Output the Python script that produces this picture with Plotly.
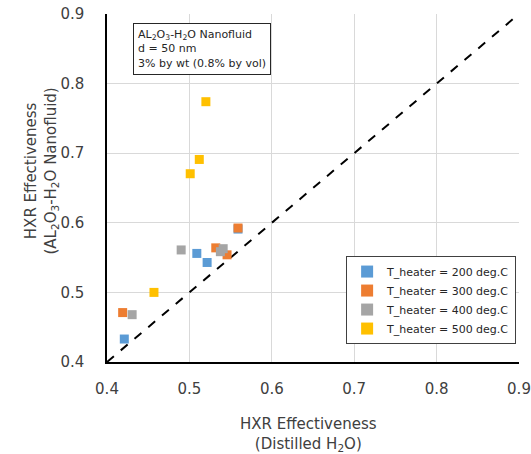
import plotly.graph_objects as go

series_names = ["T_heater = 200 deg.C", "T_heater = 300 deg.C",
                "T_heater = 400 deg.C", "T_heater = 500 deg.C"]
x_200 = [0.421, 0.509, 0.5215, 0.559]
y_200 = [0.433, 0.556, 0.543, 0.591]
x_300 = [0.419, 0.532, 0.5457, 0.559]
y_300 = [0.471, 0.564, 0.554, 0.5925]
x_400 = [0.4305, 0.490, 0.5376, 0.541]
y_400 = [0.468, 0.561, 0.5585, 0.5628]
x_500 = [0.457, 0.501, 0.512, 0.520]
y_500 = [0.500, 0.6705, 0.691, 0.774]
colors = ["#5B9BD5", "#ED7D31", "#A5A5A5", "#FFC000"]
diag = [0.4, 0.9]
tick_vals = [0.4, 0.5, 0.6, 0.7, 0.8, 0.9]

FONT = "DejaVu Sans"
fig = go.Figure()
fig.add_trace(go.Scatter(x=diag, y=diag, mode="lines", showlegend=False,
                         line=dict(color="black", width=2, dash="dash"),
                         hoverinfo="skip"))
for name, xs, ys, c in zip(series_names, [x_200, x_300, x_400, x_500],
                           [y_200, y_300, y_400, y_500], colors):
    fig.add_trace(go.Scatter(x=xs, y=ys, mode="markers", name=name,
                             marker=dict(symbol="square", size=9, color=c,
                                         line=dict(width=0))))

fig.update_layout(
    width=531, height=454,
    margin=dict(l=107, r=12, t=14, b=92),
    plot_bgcolor="white", paper_bgcolor="white",
    font=dict(family=FONT, color="#404040"),
    showlegend=True,
    legend=dict(x=0.993, y=0.178, xanchor="right", yanchor="middle",
                bgcolor="white", bordercolor="#404040", borderwidth=1,
                font=dict(size=11, color="#262626", family=FONT),
                tracegroupgap=0, itemsizing="constant"),
    xaxis=dict(range=[0.4, 0.9], tickvals=tick_vals, automargin=False,
               tickformat=".1f", showgrid=True, gridcolor="#D9D9D9",
               zeroline=False, showline=True, linecolor="black", linewidth=1.5,
               ticks="", ticklabelstandoff=12, ticklabeloverflow="allow",
               tickfont=dict(size=15, color="#404040")),
    yaxis=dict(range=[0.4, 0.9], tickvals=tick_vals, automargin=False,
               tickformat=".1f", showgrid=True, gridcolor="#D9D9D9",
               zeroline=False, showline=True, linecolor="black", linewidth=1.5,
               ticks="", ticklabelstandoff=18, ticklabeloverflow="allow",
               tickfont=dict(size=15, color="#404040")),
)
fig.add_annotation(
    xref="paper", yref="paper", x=0.063, y=0.974, xanchor="left", yanchor="top",
    text="AL<sub>2</sub>O<sub>3</sub>-H<sub>2</sub>O Nanofluid<br>d = 50 nm<br>3% by wt (0.8% by vol)",
    showarrow=False, align="left", bgcolor="white", bordercolor="#262626",
    borderwidth=1, borderpad=4, font=dict(size=11, color="#262626", family=FONT))
fig.add_annotation(
    xref="paper", yref="paper", x=0.49, y=-0.147, xanchor="center", yanchor="top",
    text="HXR Effectiveness<br>(Distilled H<sub>2</sub>O)",
    showarrow=False, align="center", font=dict(size=15, color="#404040", family=FONT))
fig.add_annotation(
    xref="paper", yref="paper", x=-0.158, y=0.55, xanchor="center", yanchor="middle",
    textangle=-90,
    text="HXR Effectiveness<br>(AL<sub>2</sub>O<sub>3</sub>-H<sub>2</sub>O Nanofluid)",
    showarrow=False, align="center", font=dict(size=15, color="#404040", family=FONT))

fig.write_html("out.html", config={"displayModeBar": False},
               post_script="document.body.style.margin='0';document.body.style.padding='0';")
